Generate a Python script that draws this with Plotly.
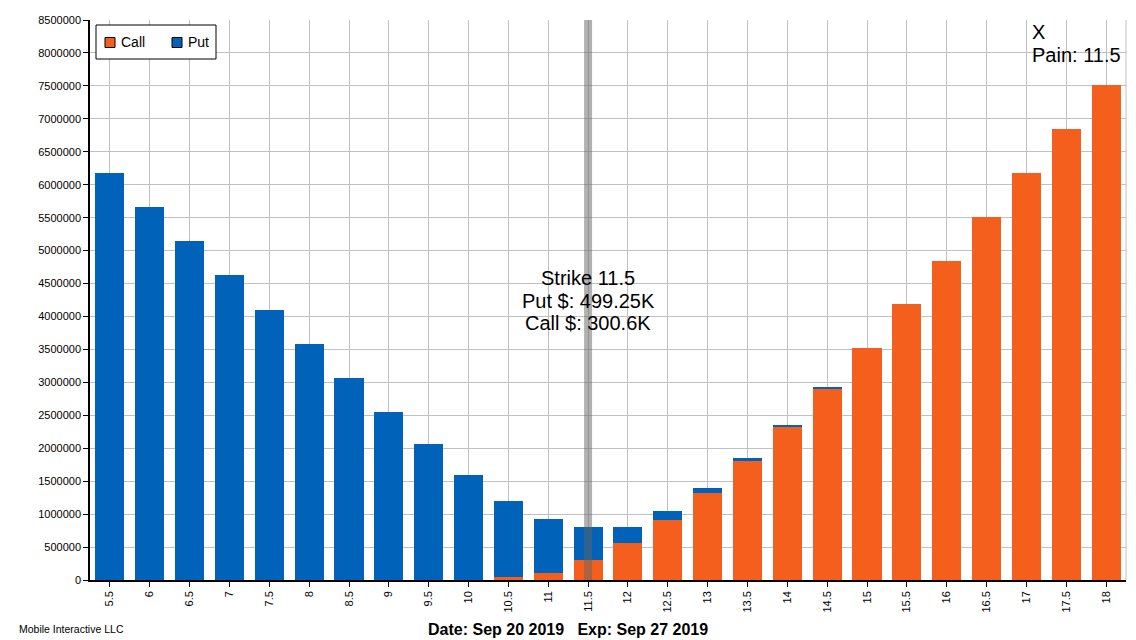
import plotly.graph_objects as go

strikes = ["5.5", "6", "6.5", "7", "7.5", "8", "8.5", "9", "9.5", "10", "10.5", "11", "11.5",
           "12", "12.5", "13", "13.5", "14", "14.5", "15", "15.5", "16", "16.5", "17", "17.5", "18"]
call_vals = [0, 0, 0, 0, 0, 0, 0, 0, 0, 0, 45000, 106000, 300600,
             562000, 911000, 1325000, 1806000, 2322000, 2899000, 3520000, 4190000, 4840000,
             5510000, 6180000, 6850000, 7510000]
put_vals = [6180000, 5662000, 5146000, 4630000, 4098000, 3582000, 3066000, 2550000, 2064000,
            1594000, 1154000, 820000, 499250, 243000, 136000, 71000, 46000, 31000, 31000,
            0, 0, 0, 0, 0, 0, 0]
series_names = ["Call", "Put"]
pain_strike = "11.5"
date_text = "Date: Sep 20 2019   Exp: Sep 27 2019"
credit_text = "Mobile Interactive LLC"

CALL_COLOR = "#F55F1E"
PUT_COLOR = "#0062B8"
FONT = "Liberation Sans, Arial, sans-serif"

# page offset of 8px (browser body margin) is compensated in width/height/margins
OFF = 8
PL, PR, PT, PB = 90, 1126, 20, 580  # plot area in screen pixels
PW, PH = PR - PL, PB - PT


def px(x):
    return (x - PL) / PW


def py(y):
    return (PB - y) / PH


fig = go.Figure()
fig.add_trace(go.Bar(x=strikes, y=call_vals, name=series_names[0],
                     marker=dict(color=CALL_COLOR, line=dict(width=0))))
fig.add_trace(go.Bar(x=strikes, y=put_vals, name=series_names[1],
                     marker=dict(color=PUT_COLOR, line=dict(width=0))))

pi = strikes.index(pain_strike)
fig.add_shape(type="line", xref="x", yref="paper", x0=pi, x1=pi, y0=0, y1=1,
              line=dict(color="rgba(99,99,99,0.5)", width=8), layer="above")
fig.add_shape(type="line", xref="paper", yref="paper", x0=1, x1=1, y0=0, y1=1,
              line=dict(color="#C0C0C0", width=1))

pc = call_vals[pi]
pp = put_vals[pi]


def fmtk(v):
    s = f"{v/1000:.2f}".rstrip("0").rstrip(".")
    return s + "K"


TXT = dict(family=FONT, size=20, color="#000")
strike_lines = [f"Strike {pain_strike}", f"Put $: {fmtk(pp)}", f"Call $: {fmtk(pc)}"]
for i, t in enumerate(strike_lines):
    fig.add_annotation(x=pi, xref="x", y=py(278 + 22.5 * i), yref="paper", yanchor="middle",
                       xanchor="center", text=t, showarrow=False, font=TXT)
pain_lines = ["X", f"Pain: {pain_strike}"]
for i, t in enumerate(pain_lines):
    fig.add_annotation(x=px(1030), xref="paper", y=py(32 + 23 * i), yref="paper", xanchor="left",
                       yanchor="middle", text=t, showarrow=False, font=TXT)

fig.add_annotation(x=px(17), xref="paper", y=py(629), yref="paper", xanchor="left", yanchor="middle",
                   text=credit_text, showarrow=False, font=dict(family=FONT, size=10.5, color="#000"))
fig.add_annotation(x=px(568), xref="paper", y=py(629), yref="paper", xanchor="center", yanchor="middle",
                   text=f"<b>{date_text}</b>", showarrow=False, font=dict(family=FONT, size=16, color="#000"))

# legend box
fig.add_shape(type="rect", xref="paper", yref="paper", x0=px(96), x1=px(216), y0=py(59), y1=py(25),
              line=dict(color="#000", width=1), fillcolor="white", layer="above")
for name, col, sx in [(series_names[0], CALL_COLOR, 105), (series_names[1], PUT_COLOR, 172)]:
    fig.add_shape(type="rect", xref="paper", yref="paper", x0=px(sx), x1=px(sx + 10),
                  y0=py(47.5), y1=py(37.5), line=dict(color="#000", width=1), fillcolor=col, layer="above")
    fig.add_annotation(x=px(sx + 14), xref="paper", y=py(42.5), yref="paper", xanchor="left",
                       yanchor="middle", text=name, showarrow=False,
                       font=dict(family=FONT, size=14, color="#000"))

fig.update_layout(
    width=1136 - OFF, height=640 - OFF, barmode="stack", bargap=0.27,
    margin=dict(l=PL - OFF, r=1136 - PR, t=PT - OFF, b=640 - PB, autoexpand=False),
    plot_bgcolor="white", paper_bgcolor="white",
    font=dict(family=FONT, size=11, color="#000"),
    showlegend=False,
    xaxis=dict(type="category", tickangle=-90, showgrid=True, gridcolor="#C0C0C0",
               showline=True, linecolor="#000", linewidth=1.5, ticks="outside", ticklen=5,
               tickcolor="#000", tickfont=dict(family=FONT, size=11, color="#000"), automargin=False),
    yaxis=dict(range=[0, 8500000], dtick=500000, tickformat="d", showgrid=True, gridcolor="#C0C0C0",
               showline=True, linecolor="#000", linewidth=1.5, ticks="outside", ticklen=5,
               tickcolor="#000", zeroline=False, tickfont=dict(family=FONT, size=11, color="#000"),
               automargin=False),
)

fig.write_html("out.html")
